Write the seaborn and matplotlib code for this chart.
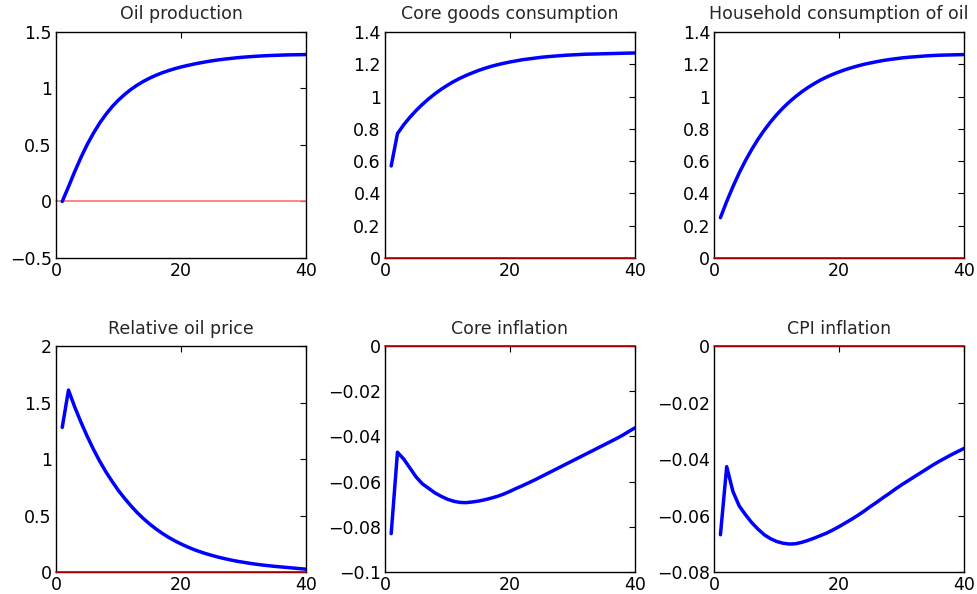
import numpy as np
import pandas as pd
import matplotlib
matplotlib.use('Agg')
import matplotlib.pyplot as plt
import seaborn as sns

# horizon (quarters)
periods = list(range(1, 41))

oil_production = [0.0, 0.13, 0.265, 0.39, 0.505, 0.605, 0.695, 0.772, 0.84, 0.898,
                  0.948, 0.992, 1.03, 1.063, 1.092, 1.117, 1.139, 1.158, 1.175, 1.19,
                  1.203, 1.215, 1.226, 1.236, 1.245, 1.253, 1.26, 1.266, 1.272, 1.277,
                  1.281, 1.285, 1.288, 1.291, 1.293, 1.295, 1.297, 1.298, 1.299, 1.30]

core_consumption = [0.57, 0.77, 0.825, 0.872, 0.914, 0.952, 0.986, 1.017, 1.045, 1.07,
                    1.093, 1.113, 1.131, 1.147, 1.162, 1.175, 1.187, 1.197, 1.206, 1.214,
                    1.221, 1.228, 1.233, 1.238, 1.243, 1.247, 1.25, 1.253, 1.256, 1.258,
                    1.26, 1.262, 1.263, 1.264, 1.265, 1.266, 1.267, 1.268, 1.269, 1.27]

household_oil = [0.25, 0.35, 0.442, 0.527, 0.603, 0.672, 0.735, 0.791, 0.842, 0.888,
                 0.929, 0.966, 0.999, 1.029, 1.056, 1.08, 1.102, 1.121, 1.138, 1.153,
                 1.167, 1.179, 1.19, 1.2, 1.208, 1.216, 1.223, 1.229, 1.234, 1.239,
                 1.243, 1.246, 1.249, 1.252, 1.254, 1.256, 1.257, 1.258, 1.259, 1.26]

oil_price = [1.28, 1.61, 1.46, 1.325, 1.20, 1.085, 0.98, 0.885, 0.80, 0.72,
             0.65, 0.585, 0.525, 0.472, 0.424, 0.381, 0.342, 0.307, 0.276, 0.248,
             0.223, 0.20, 0.18, 0.162, 0.146, 0.131, 0.118, 0.106, 0.095, 0.086,
             0.077, 0.069, 0.062, 0.056, 0.05, 0.045, 0.04, 0.035, 0.03, 0.025]

core_inflation = [-0.083, -0.047, -0.050, -0.054, -0.058, -0.061, -0.063, -0.065, -0.0665, -0.0678,
                  -0.0687, -0.0692, -0.0693, -0.0690, -0.0686, -0.068, -0.0673, -0.0665, -0.0655, -0.0643,
                  -0.063, -0.0618, -0.0605, -0.0592, -0.0578, -0.0564, -0.055, -0.0536, -0.0522, -0.0508,
                  -0.0494, -0.048, -0.0466, -0.0452, -0.0438, -0.0424, -0.041, -0.0395, -0.0378, -0.0362]

cpi_inflation = [-0.0668, -0.0427, -0.0515, -0.0566, -0.0597, -0.0625, -0.0648, -0.0668, -0.0682, -0.0692,
                 -0.0698, -0.0701, -0.0700, -0.0695, -0.0688, -0.0680, -0.0671, -0.0662, -0.0651, -0.0639,
                 -0.0626, -0.0613, -0.0599, -0.0584, -0.0568, -0.0553, -0.0537, -0.0522, -0.0506, -0.0491,
                 -0.0477, -0.0463, -0.0449, -0.0435, -0.0421, -0.0408, -0.0396, -0.0384, -0.0373, -0.0362]

titles = ['Oil production', 'Core goods consumption', 'Household consumption of oil',
          'Relative oil price', 'Core inflation', 'CPI inflation']
series = [oil_production, core_consumption, household_oil,
          oil_price, core_inflation, cpi_inflation]
ylims = [(-0.5, 1.5), (0, 1.4), (0, 1.4), (0, 2), (-0.1, 0), (-0.08, 0)]
yticks = [[-0.5, 0, 0.5, 1, 1.5],
          [0, 0.2, 0.4, 0.6, 0.8, 1, 1.2, 1.4],
          [0, 0.2, 0.4, 0.6, 0.8, 1, 1.2, 1.4],
          [0, 0.5, 1, 1.5, 2],
          [-0.1, -0.08, -0.06, -0.04, -0.02, 0],
          [-0.08, -0.06, -0.04, -0.02, 0]]

sns.set_theme(style='white')
plt.rcParams['font.family'] = ['DejaVu Sans']
plt.rcParams['xtick.direction'] = 'in'
plt.rcParams['ytick.direction'] = 'in'

fig = plt.figure(figsize=(9.77, 5.94), dpi=100)

lefts = [0.0573, 0.394, 0.731]
bottoms = [0.5657, 0.037]
w, h = 0.256, 0.3805

def fmt(v):
    s = ('%g' % v)
    return s.replace('-', '\u2212')

for i in range(6):
    r, c = divmod(i, 3)
    ax = fig.add_axes([lefts[c], bottoms[r], w, h])
    df = pd.DataFrame({'t': periods, 'v': series[i]})
    zero_col = '#ff7070' if i == 0 else '#c00000'
    ax.axhline(0, color=zero_col, lw=1.2, zorder=3 if i > 0 else 1, clip_on=False)
    sns.lineplot(data=df, x='t', y='v', ax=ax, color='#0000ff', lw=2.5, zorder=2)
    ax.set_xlim(0, 40)
    ax.set_ylim(*ylims[i])
    ax.set_xticks([0, 20, 40])
    ax.set_yticks(yticks[i])
    ax.set_yticklabels([fmt(v) for v in yticks[i]])
    ax.set_xlabel('')
    ax.set_ylabel('')
    ax.set_title(titles[i], fontsize=12.5, pad=9)
    ax.tick_params(axis='both', which='both', direction='in', length=4, width=0.8,
                   top=True, right=True, labelsize=12.5, colors='black', pad=3)
    for sp in ax.spines.values():
        sp.set_color('black')
        sp.set_linewidth(1.0)

fig.savefig('out.png', dpi=100)
